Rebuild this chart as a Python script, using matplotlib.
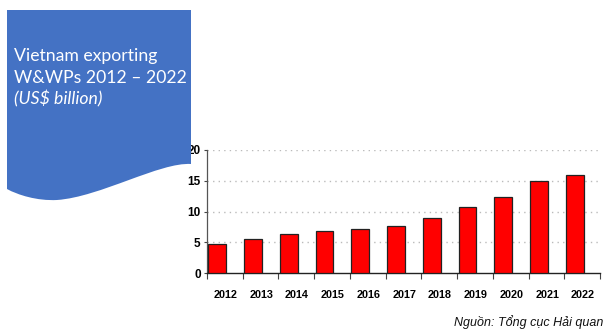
import matplotlib
matplotlib.use("Agg")
import matplotlib.pyplot as plt
from matplotlib.path import Path
from matplotlib.patches import PathPatch
import numpy as np

years = ["2012", "2013", "2014", "2015", "2016", "2017", "2018", "2019", "2020", "2021", "2022"]
values = [4.7, 5.6, 6.3, 6.9, 7.1, 7.7, 9.0, 10.7, 12.4, 15.0, 16.0]
yticks = [0, 5, 10, 15, 20]
title_lines = ["Vietnam exporting", "W&WPs 2012 \u2013 2022"]
subtitle = "(US$ billion)"
source = "Ngu\u1ed3n: T\u1ed5ng c\u1ee5c H\u1ea3i quan"

W, H = 604, 331
fig = plt.figure(figsize=(W / 100, H / 100), dpi=100)
fig.patch.set_facecolor("white")

def fx(x):
    return x / W
def fy(y):
    return 1 - y / H

verts = [
    (fx(7), fy(10)), (fx(191), fy(10)), (fx(191), fy(164)),
    (fx(160), fy(162)), (fx(100), fy(197)), (fx(57), fy(200)),
    (fx(37), fy(201)), (fx(18), fy(195)), (fx(7), fy(189)),
    (fx(7), fy(10)),
]
codes = [Path.MOVETO, Path.LINETO, Path.LINETO,
         Path.CURVE4, Path.CURVE4, Path.CURVE4,
         Path.CURVE4, Path.CURVE4, Path.CURVE4,
         Path.CLOSEPOLY]
banner = PathPatch(Path(verts, codes), facecolor="#4472C4", edgecolor="none",
                   transform=fig.transFigure, zorder=0)
fig.patches.append(banner)

tfam = ["Lato", "DejaVu Sans"]
fs_title = 12.7
fig.text(fx(14), fy(61), title_lines[0], color="white", fontsize=fs_title,
         family=tfam, ha="left", va="baseline")
fig.text(fx(14), fy(83), title_lines[1], color="white", fontsize=fs_title,
         family=tfam, ha="left", va="baseline")
fig.text(fx(14), fy(104), subtitle, color="white", fontsize=fs_title,
         family=tfam, style="italic", ha="left", va="baseline")

left, right, top, bottom = 207, 600, 150, 273
ax = fig.add_axes([fx(left), fy(bottom), (right - left) / W, (bottom - top) / H])
ax.set_facecolor("none")

narrow = ["Liberation Sans Narrow", "Liberation Sans", "DejaVu Sans"]
n = len(years)
x = np.arange(n)
ax.bar(x + 0.04, values, width=0.5, align="edge", color="#FF0000",
       edgecolor="#222222", linewidth=0.9, zorder=3)

ax.set_xlim(0, n)
ax.set_ylim(0, 20)
ax.set_yticks(yticks)
ax.set_yticklabels([str(v) for v in yticks], fontsize=8.5, fontweight="bold",
                   family=narrow)
ax.set_xticks(np.arange(n + 1))
ax.set_xticklabels([])
ax.set_xticks(x + 0.52, minor=True)
ax.set_xticklabels(years, minor=True, fontsize=7.8, fontweight="bold", family=narrow)
ax.tick_params(axis="x", which="major", length=4, width=0.8, color="#444444", direction="out")
ax.tick_params(axis="x", which="minor", length=0, pad=12)
ax.tick_params(axis="y", length=2.5, width=0.8, color="#444444", pad=2)

for v in yticks[1:]:
    ax.axhline(v, color="#BBBBBB", linestyle=(0, (1, 3)), linewidth=1.0, zorder=1)

for s in ["top", "right"]:
    ax.spines[s].set_visible(False)
ax.spines["left"].set_color("#555555")
ax.spines["left"].set_linewidth(0.9)
ax.spines["bottom"].set_color("#222222")
ax.spines["bottom"].set_linewidth(1.0)

fig.text(fx(603), fy(322), source, fontsize=9, style="italic", family=narrow,
         ha="right", va="center", color="#111111")

fig.savefig("out.png", dpi=100)
